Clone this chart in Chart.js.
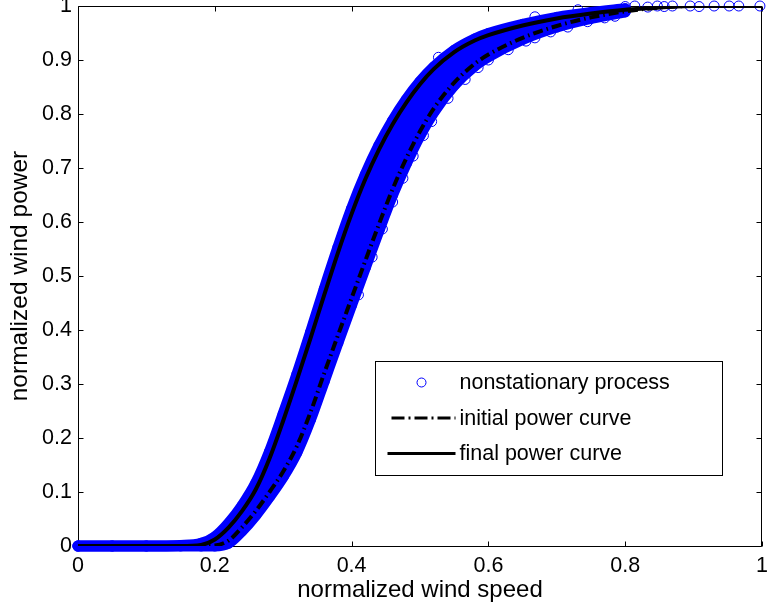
<!DOCTYPE html>
<html>
<head>
<meta charset="utf-8">
<script src="https://cdn.jsdelivr.net/npm/chart.js@4.4.1/dist/chart.umd.min.js"></script>
<style>
  html, body { margin: 0; padding: 0; background: #fff; }
  canvas { display: block; }
</style>
</head>
<body>
<canvas id="powerCurve" width="768" height="612"></canvas>
<script>
// normalized wind speed grid used by both power curves
const speedGrid = [0, 0.05, 0.10, 0.15, 0.18, 0.20, 0.22, 0.24, 0.26, 0.28, 0.30, 0.32, 0.34, 0.36, 0.38,
  0.40, 0.42, 0.44, 0.46, 0.48, 0.50, 0.52, 0.55, 0.58, 0.60, 0.65, 0.70, 0.75, 0.80, 0.85, 0.90, 0.95, 1.00];

const initialPower = [0, 0, 0, 0, 0, 0.001, 0.01, 0.035, 0.065, 0.1, 0.138, 0.185, 0.248, 0.32, 0.39,
  0.459, 0.528, 0.596, 0.661, 0.718, 0.768, 0.81, 0.858, 0.893, 0.91, 0.941, 0.963, 0.979, 0.99, 0.997, 1, 1, 1];

const finalPower = [0, 0, 0, 0, 0.002, 0.012, 0.034, 0.065, 0.105, 0.162, 0.232, 0.307, 0.385, 0.465, 0.543,
  0.615, 0.679, 0.734, 0.781, 0.821, 0.855, 0.883, 0.9145, 0.936, 0.946, 0.964, 0.977, 0.986, 0.993, 0.997, 1, 1, 1];

// envelope of the nonstationary samples (speedGrid up to 0.8)
const processUpper = [0, 0, 0, 0.001, 0.005, 0.017, 0.042, 0.075, 0.117, 0.175, 0.245, 0.318, 0.396, 0.476, 0.553,
  0.625, 0.688, 0.742, 0.788, 0.827, 0.86, 0.887, 0.918, 0.939, 0.949, 0.966, 0.979, 0.988, 0.995];
const processLower = [0, 0, 0, 0, 0, 0, 0.005, 0.028, 0.057, 0.091, 0.128, 0.173, 0.234, 0.305, 0.376,
  0.446, 0.515, 0.584, 0.65, 0.708, 0.76, 0.803, 0.853, 0.889, 0.906, 0.938, 0.961, 0.977, 0.989];

// scattered samples at the edges of the cloud and above rated speed
const sampleSpeed = [0.41, 0.43, 0.445, 0.46, 0.475, 0.49, 0.505, 0.517, 0.541, 0.566, 0.585, 0.6, 0.629, 0.655,
  0.668, 0.691, 0.716, 0.745, 0.77, 0.785, 0.527, 0.668, 0.731,
  0.80, 0.814, 0.833, 0.847, 0.857, 0.869, 0.895, 0.908, 0.93, 0.952, 0.966, 0.997];
const samplePower = [0.465, 0.535, 0.587, 0.637, 0.681, 0.722, 0.76, 0.786, 0.829, 0.864, 0.886, 0.9, 0.919, 0.935,
  0.941, 0.952, 0.961, 0.971, 0.978, 0.981, 0.905, 0.98, 0.993,
  0.999, 1, 0.998, 1, 0.999, 1, 1, 0.999, 1, 1, 1, 1];

const xTicks = [0, 0.2, 0.4, 0.6, 0.8, 1];
const yTicks = [0, 0.1, 0.2, 0.3, 0.4, 0.5, 0.6, 0.7, 0.8, 0.9, 1];

const FONT = "'Liberation Sans', Arial, Helvetica, sans-serif";
const BLUE = '#0000ff';

const pts = (xs, ys) => ys.map((y, i) => ({ x: xs[i], y: y }));

const processPoints = pts(speedGrid, processUpper)
  .concat(pts(speedGrid, processLower))
  .concat(pts(sampleSpeed, samplePower));

// axes box with inward tick marks on all sides
const frame = {
  id: 'frame',
  beforeDatasetsDraw(chart) {
    const { ctx, chartArea: a, scales } = chart;
    const L = a.left + 0.5, R = a.right - 0.5, T = a.top + 0.5, B = a.bottom + 0.5;
    ctx.save();
    ctx.strokeStyle = '#000';
    ctx.lineWidth = 1;
    ctx.beginPath();
    ctx.rect(L, T, R - L, B - T);
    xTicks.forEach(v => {
      const px = Math.round(scales.x.getPixelForValue(v)) + 0.5;
      ctx.moveTo(px, B); ctx.lineTo(px, B - 5);
      ctx.moveTo(px, T); ctx.lineTo(px, T + 5);
    });
    yTicks.forEach(v => {
      const py = Math.round(scales.y.getPixelForValue(v)) + 0.5;
      ctx.moveTo(L, py); ctx.lineTo(L + 5, py);
      ctx.moveTo(R, py); ctx.lineTo(R - 5, py);
    });
    ctx.stroke();
    ctx.restore();
  }
};

// boxed legend inside the axes, lower right
const boxLegend = {
  id: 'boxLegend',
  afterDatasetsDraw(chart) {
    const { ctx, chartArea: a } = chart;
    const left = a.left + 297.5, top = a.top + 355.5, w = 347, h = 114;
    ctx.save();
    ctx.fillStyle = '#fff';
    ctx.fillRect(left, top, w, h);
    ctx.strokeStyle = '#000';
    ctx.lineWidth = 1;
    ctx.strokeRect(left, top, w, h);
    ctx.font = '21.5px ' + FONT;
    ctx.textBaseline = 'middle';
    chart.data.datasets.slice(0, 3).forEach((ds, i) => {
      const y = top + 21 + i * 35.5;
      if (ds.showLine === false) {
        ctx.beginPath();
        ctx.arc(left + 46, y, 4.5, 0, Math.PI * 2);
        ctx.strokeStyle = ds.borderColor;
        ctx.lineWidth = 1;
        ctx.stroke();
      } else {
        ctx.beginPath();
        ctx.setLineDash(ds.borderDash ? [13, 4, 2, 4] : []);
        ctx.lineDashOffset = ds.borderDash ? 19 : 0;
        ctx.moveTo(left + 12, y);
        ctx.lineTo(left + 80, y);
        ctx.strokeStyle = '#000';
        ctx.lineWidth = 3;
        ctx.stroke();
        ctx.setLineDash([]);
      }
      ctx.fillStyle = '#000';
      ctx.fillText(ds.label, left + 84, y + 1);
    });
    ctx.restore();
  }
};

new Chart(document.getElementById('powerCurve'), {
  type: 'scatter',
  data: {
    datasets: [
      {
        label: 'nonstationary process',
        data: processPoints,
        showLine: false,
        pointStyle: 'circle',
        pointRadius: 5,
        pointBorderWidth: 1,
        borderColor: BLUE,
        backgroundColor: 'rgba(0,0,0,0)',
        clip: false,
        order: 2
      },
      {
        label: 'initial power curve',
        data: pts(speedGrid, initialPower),
        showLine: true,
        borderColor: '#000',
        borderWidth: 4,
        borderDash: [10, 4, 1.5, 4],
        cubicInterpolationMode: 'monotone',
        pointRadius: 0,
        order: 1
      },
      {
        label: 'final power curve',
        data: pts(speedGrid, finalPower),
        showLine: true,
        borderColor: '#000',
        borderWidth: 4,
        cubicInterpolationMode: 'monotone',
        pointRadius: 0,
        order: 0
      },
      {
        label: 'process upper',
        data: pts(speedGrid, processUpper),
        showLine: true,
        borderColor: BLUE,
        backgroundColor: BLUE,
        borderWidth: 11,
        borderCapStyle: 'round',
        borderJoinStyle: 'round',
        cubicInterpolationMode: 'monotone',
        fill: '+1',
        pointRadius: 0,
        clip: false,
        order: 3
      },
      {
        label: 'process lower',
        data: pts(speedGrid, processLower),
        showLine: true,
        borderColor: BLUE,
        borderWidth: 11,
        borderCapStyle: 'round',
        borderJoinStyle: 'round',
        cubicInterpolationMode: 'monotone',
        pointRadius: 0,
        clip: false,
        order: 4
      }
    ]
  },
  options: {
    responsive: false,
    devicePixelRatio: 1,
    animation: false,
    layout: { padding: { top: 5, right: 3, left: 0, bottom: 0 } },
    plugins: {
      legend: { display: false },
      tooltip: { enabled: false }
    },
    scales: {
      x: {
        type: 'linear',
        min: 0,
        max: 1,
        grid: { display: false, drawTicks: false },
        border: { display: false },
        ticks: {
          stepSize: 0.2,
          padding: 7,
          color: '#000',
          maxRotation: 0,
          font: { family: FONT, size: 21.5 },
          callback: v => String(+v.toFixed(1))
        },
        title: {
          display: true,
          text: 'normalized wind speed',
          color: '#000',
          font: { family: FONT, size: 24 },
          padding: { top: 0, bottom: 7 }
        },
        afterFit(scale) {
          scale.height = 66;
          scale.paddingLeft = 0;
          scale.paddingRight = 0;
        }
      },
      y: {
        type: 'linear',
        min: 0,
        max: 1,
        grid: { display: false, drawTicks: false },
        border: { display: false },
        ticks: {
          stepSize: 0.1,
          padding: 6,
          color: '#000',
          font: { family: FONT, size: 21.5 },
          callback: v => String(+v.toFixed(1))
        },
        title: {
          display: true,
          text: 'normalized wind power',
          color: '#000',
          font: { family: FONT, size: 24.5 },
          padding: { top: 6, bottom: 0 }
        },
        afterFit(scale) {
          scale.width = 78;
          scale.paddingTop = 0;
          scale.paddingBottom = 0;
        }
      }
    }
  },
  plugins: [frame, boxLegend]
});
</script>
</body>
</html>
